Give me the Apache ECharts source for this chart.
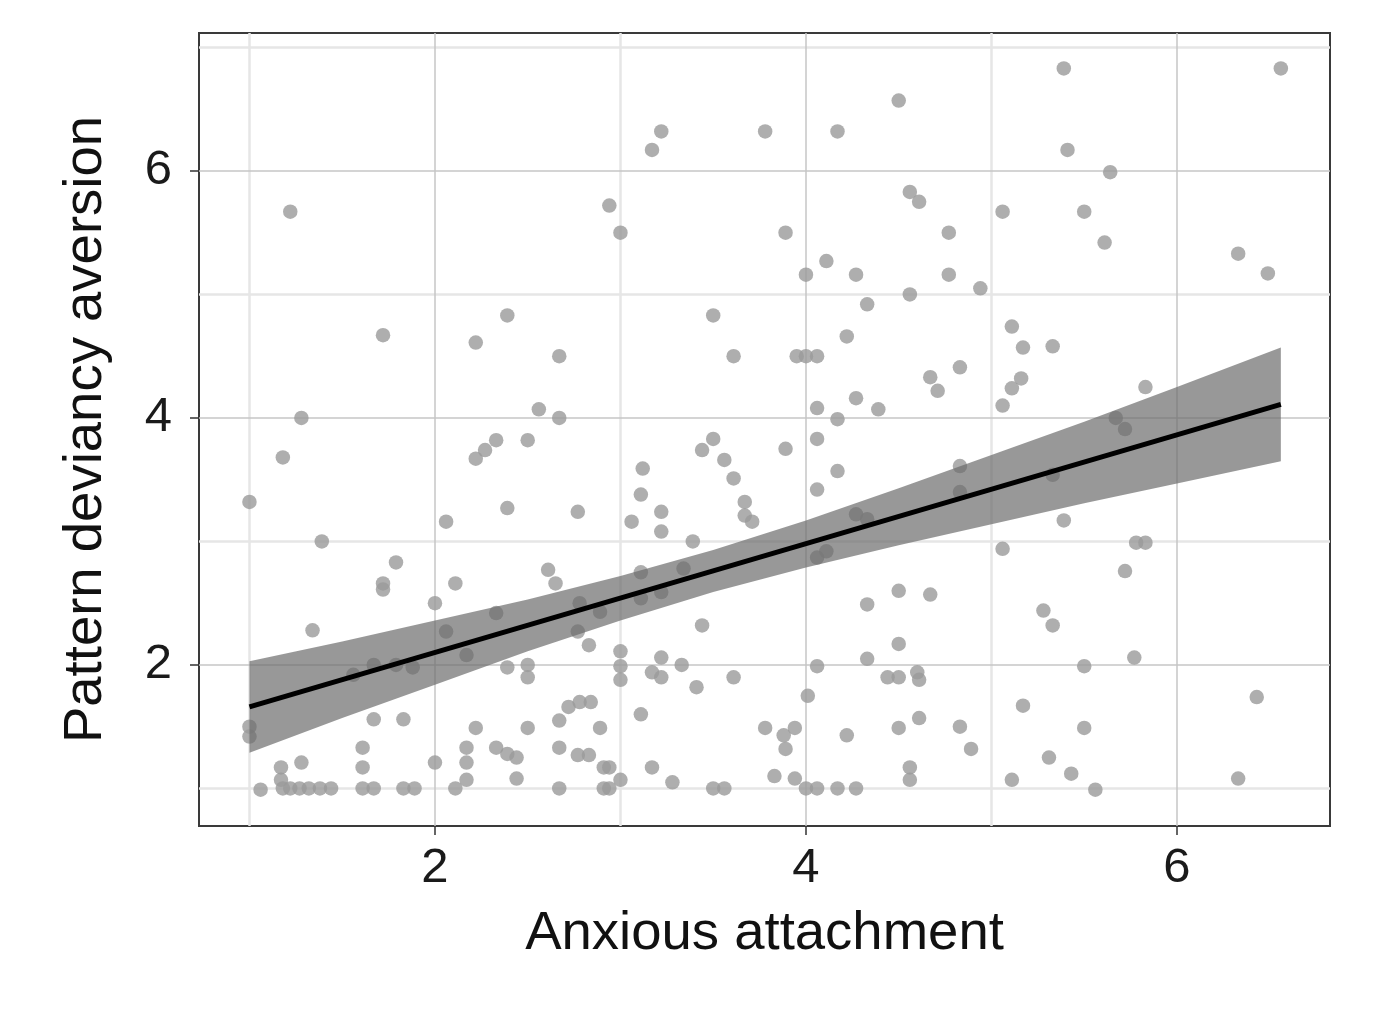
<!DOCTYPE html>
<html>
<head>
<meta charset="utf-8">
<title>Anxious attachment vs pattern deviancy aversion</title>
<script src="https://cdn.jsdelivr.net/npm/echarts@6.0.0/dist/echarts.min.js"></script>
<style>
    html, body { margin: 0; padding: 0; background: #fff; }
    #main { width: 1400px; height: 1010px; }
</style>
</head>
<body>
<div id="main"></div>
<script>
    // points, [anxious attachment, pattern deviancy aversion]
    var pointsTop = [
        [1.22, 5.67], [1.72, 4.67], [1.28, 4.00], [2.22, 4.61], [2.39, 4.83], [2.67, 4.50], [2.56, 4.07], [2.67, 4.00],
        [4.50, 6.57], [3.22, 6.32], [3.17, 6.17], [3.78, 6.32], [4.17, 6.32], [2.94, 5.72], [3.00, 5.50], [3.89, 5.50],
        [4.56, 5.83], [4.61, 5.75], [4.77, 5.50], [4.11, 5.27], [4.00, 5.16], [4.27, 5.16], [4.77, 5.16], [4.56, 5.00],
        [4.33, 4.92], [3.50, 4.83], [4.22, 4.66], [3.61, 4.50], [3.95, 4.50], [4.00, 4.50], [4.06, 4.50], [4.67, 4.33],
        [4.71, 4.22], [4.27, 4.16], [4.06, 4.08], [4.39, 4.07], [4.17, 3.99],
        [5.39, 6.83], [6.56, 6.83], [5.41, 6.17], [5.64, 5.99], [5.06, 5.67], [5.50, 5.67], [5.61, 5.42], [6.33, 5.33],
        [6.49, 5.17], [4.94, 5.05], [5.11, 4.74], [5.17, 4.57], [5.33, 4.58], [4.83, 4.41], [5.16, 4.32], [5.11, 4.24],
        [5.83, 4.25], [5.06, 4.10], [5.67, 4.00], [5.72, 3.91]
    ];
    var pointsMiddle = [
        [1.18, 3.68], [1.00, 3.32], [1.39, 3.00], [1.79, 2.83], [1.72, 2.66], [1.72, 2.61], [2.00, 2.50], [2.06, 3.16],
        [2.11, 2.66], [2.22, 3.67], [2.27, 3.74], [2.33, 3.82], [2.50, 3.82], [2.39, 3.27], [2.61, 2.77], [2.65, 2.66],
        [2.33, 2.42], [2.77, 3.24],
        [3.12, 3.59], [3.11, 3.38], [3.06, 3.16], [3.22, 3.24], [3.22, 3.08], [3.39, 3.00], [3.44, 3.74], [3.50, 3.83],
        [3.56, 3.66], [3.61, 3.51], [3.67, 3.32], [3.67, 3.21], [3.71, 3.16], [3.89, 3.75], [4.06, 3.83], [4.06, 3.42],
        [4.17, 3.57], [4.27, 3.22], [4.33, 3.18], [4.06, 2.87], [4.11, 2.92], [3.11, 2.75], [3.34, 2.78], [3.11, 2.54],
        [3.22, 2.59], [2.78, 2.50], [2.89, 2.43], [4.33, 2.49], [4.50, 2.60], [4.67, 2.57], [3.44, 2.32],
        [4.83, 3.61], [4.83, 3.40], [5.33, 3.54], [5.39, 3.17], [5.06, 2.94], [5.78, 2.99], [5.83, 2.99], [5.72, 2.76],
        [5.28, 2.44]
    ];
    var pointsBottom = [
        [1.34, 2.28], [2.06, 2.27], [2.17, 2.08], [2.77, 2.27], [1.67, 2.00], [1.56, 1.92], [1.79, 2.00], [1.88, 1.98],
        [2.39, 1.98], [2.50, 2.00], [2.50, 1.90], [1.00, 1.50], [1.00, 1.42], [1.67, 1.56], [1.83, 1.56], [2.22, 1.49],
        [2.50, 1.49], [2.67, 1.55], [2.67, 1.33], [2.72, 1.66], [2.78, 1.70], [2.84, 1.70], [1.61, 1.33], [1.61, 1.17],
        [1.06, 0.99], [1.17, 1.17], [1.17, 1.07], [1.18, 1.00], [1.22, 1.00], [1.27, 1.00], [1.32, 1.00], [1.38, 1.00],
        [1.44, 1.00], [1.28, 1.21], [1.61, 1.00], [1.67, 1.00], [1.83, 1.00], [1.89, 1.00], [2.00, 1.21], [2.11, 1.00],
        [2.17, 1.07], [2.17, 1.21], [2.17, 1.33], [2.33, 1.33], [2.39, 1.28], [2.44, 1.25], [2.44, 1.08], [2.67, 1.00],
        [2.77, 1.27], [2.83, 1.27],
        [2.83, 2.16], [3.00, 2.11], [3.00, 1.99], [3.00, 1.88], [3.22, 2.06], [3.17, 1.94], [3.22, 1.90], [3.33, 2.00],
        [3.41, 1.82], [3.61, 1.90], [3.11, 1.60], [2.89, 1.49], [2.91, 1.17], [2.94, 1.17], [3.00, 1.07], [2.91, 1.00],
        [2.94, 1.00], [3.17, 1.17], [3.28, 1.05], [3.50, 1.00], [3.56, 1.00], [3.78, 1.49], [3.88, 1.43], [3.94, 1.49],
        [3.89, 1.32], [3.83, 1.10], [3.94, 1.08], [4.00, 1.00], [4.06, 1.00], [4.17, 1.00], [4.27, 1.00], [4.01, 1.75],
        [4.06, 1.99], [4.22, 1.43], [4.33, 2.05], [4.50, 2.17], [4.44, 1.90], [4.50, 1.90], [4.60, 1.94], [4.61, 1.88],
        [4.50, 1.49], [4.61, 1.57], [4.56, 1.17], [4.56, 1.07],
        [5.33, 2.32], [5.50, 1.99], [5.77, 2.06], [5.17, 1.67], [5.50, 1.49], [4.83, 1.50], [4.89, 1.32], [5.31, 1.25],
        [5.43, 1.12], [5.11, 1.07], [5.56, 0.99], [6.43, 1.74], [6.33, 1.08]
    ];

    // fitted line and its confidence band, read at a few x positions
    var fitX = [1.00, 6.56];
    var fitY = [1.66, 4.11];
    var bandX    = [1.00, 1.50, 2.00, 2.50, 3.00, 3.50, 4.00, 4.50, 5.00, 5.50, 6.00, 6.56];
    var bandLow  = [1.29, 1.57, 1.84, 2.11, 2.36, 2.59, 2.79, 2.97, 3.14, 3.31, 3.47, 3.65];
    var bandHigh = [2.03, 2.19, 2.36, 2.53, 2.72, 2.93, 3.17, 3.43, 3.70, 3.97, 4.25, 4.57];

    // axes
    var xRange = [0.728, 6.825];
    var yRange = [0.696, 7.117];
    var majorTicks = [2, 4, 6];
    var minorX = [1, 3, 5];
    var minorY = [1, 3, 5, 7];

    var FONT = 'Liberation Sans, Arial, Helvetica, sans-serif';
    var myChart = echarts.init(document.getElementById('main'), null, {renderer: 'canvas'});

    var gridLines = [];
    minorX.forEach(function (v) { gridLines.push({xAxis: v, lineStyle: {color: '#e6e6e6', width: 2.5, type: 'solid'}}); });
    minorY.forEach(function (v) { gridLines.push({yAxis: v, lineStyle: {color: '#e6e6e6', width: 2.5, type: 'solid'}}); });
    majorTicks.forEach(function (v) { gridLines.push({xAxis: v, lineStyle: {color: '#c6c6c6', width: 1.5, type: 'solid'}}); });
    majorTicks.forEach(function (v) { gridLines.push({yAxis: v, lineStyle: {color: '#c6c6c6', width: 1.5, type: 'solid'}}); });

    function axisCommon(range, name, gap) {
        return {
            type: 'value',
            min: range[0],
            max: range[1],
            name: name,
            nameLocation: 'middle',
            nameGap: gap,
            nameTextStyle: {fontFamily: FONT, fontSize: 54.5, color: '#111'},
            axisLine: {show: false, onZero: false},
            splitLine: {show: false},
            axisTick: {show: true, length: 9, customValues: majorTicks, lineStyle: {color: '#333', width: 1.5}},
            axisLabel: {customValues: majorTicks, fontFamily: FONT, fontSize: 49, color: '#1a1a1a'}
        };
    }

    var xAxis = axisCommon(xRange, 'Anxious attachment', 80);
    xAxis.axisLabel.margin = 18;
    var yAxis = axisCommon(yRange, 'Pattern deviancy aversion', 86);
    yAxis.axisLabel.margin = 27;

    var option = {
        backgroundColor: '#fff',
        animation: false,
        grid: {
            left: 199, right: 70, top: 33, bottom: 184,
            show: true, backgroundColor: '#fff', borderColor: '#3a3a3a', borderWidth: 2
        },
        xAxis: xAxis,
        yAxis: yAxis,
        series: [
            {
                name: 'grid',
                type: 'line',
                data: [],
                silent: true,
                markLine: {
                    z: 1,
                    silent: true,
                    symbol: ['none', 'none'],
                    label: {show: false},
                    emphasis: {disabled: true},
                    lineStyle: {type: 'solid'},
                    data: gridLines
                }
            },
            {
                name: 'points',
                type: 'scatter',
                z: 2,
                symbolSize: 14.5,
                itemStyle: {color: '#9a9a9a'},
                data: pointsTop.concat(pointsMiddle, pointsBottom)
            },
            {
                name: 'band',
                type: 'custom',
                z: 3,
                silent: true,
                data: [[bandX[0], bandLow[0]]],
                renderItem: function (params, api) {
                    var pts = [];
                    for (var i = 0; i < bandX.length; i++) pts.push(api.coord([bandX[i], bandHigh[i]]));
                    for (var j = bandX.length - 1; j >= 0; j--) pts.push(api.coord([bandX[j], bandLow[j]]));
                    return {type: 'polygon', shape: {points: pts}, style: {fill: 'rgba(106,106,106,0.69)'}};
                }
            },
            {
                name: 'fit',
                type: 'line',
                z: 4,
                symbol: 'none',
                lineStyle: {color: '#000', width: 5},
                data: fitX.map(function (v, i) { return [v, fitY[i]]; })
            }
        ]
    };
    myChart.setOption(option);
</script>
</body>
</html>
